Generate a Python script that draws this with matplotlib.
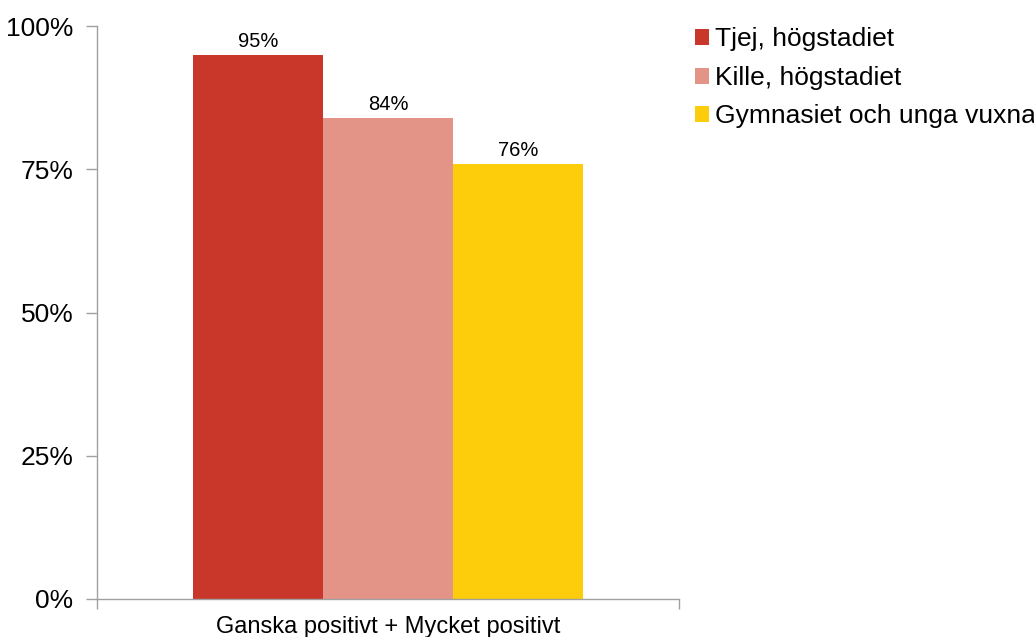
import numpy as np
import matplotlib.pyplot as plt
from matplotlib.patches import Patch
from matplotlib.ticker import FuncFormatter

plt.rcParams['font.family'] = ['Liberation Sans', 'DejaVu Sans']

category = 'Ganska positivt + Mycket positivt'
groups = ['Tjej, högstadiet', 'Kille, högstadiet', 'Gymnasiet och unga vuxna']
values = [95, 84, 76]
colors = ['#C9372A', '#E39486', '#FDCC0A']
axis_color = '#A0A0A0'

fig = plt.figure(figsize=(10.34, 6.37), dpi=100)
ax = fig.add_axes([0.0938, 0.0597, 0.5629, 0.8993])

width = 0.223
offsets = (np.arange(len(groups)) - 1) * width
bars = ax.bar(offsets, values, width=width, color=colors, linewidth=0)
for x, v in zip(offsets, values):
    ax.text(x, v + 0.7, f'{v}%', ha='center', va='bottom', fontsize=14.5)

ax.set_xlim(-0.5, 0.5)
ax.set_ylim(0, 100)
ax.set_yticks([0, 25, 50, 75, 100])
ax.yaxis.set_major_formatter(FuncFormatter(lambda v, _: f'{v:.0f}%'))
ax.tick_params(axis='y', length=8, width=1, color=axis_color, labelsize=19, pad=9)

ax.set_xticks([0])
ax.set_xticklabels([category], fontsize=17)
ax.tick_params(axis='x', which='major', length=0, pad=12)
ax.set_xticks([-0.5, 0.5], minor=True)
ax.tick_params(axis='x', which='minor', length=7, width=1, color=axis_color)

for side in ['top', 'right']:
    ax.spines[side].set_visible(False)
for side in ['left', 'bottom']:
    ax.spines[side].set_color(axis_color)
    ax.spines[side].set_linewidth(1)

handles = [Patch(facecolor=c, edgecolor='none') for c in colors]
fig.legend(handles, groups, loc='upper left', bbox_to_anchor=(0.672, 0.957),
           frameon=False, fontsize=19, handlelength=0.55, handleheight=0.55,
           handletextpad=0.2, labelspacing=0.55, borderpad=0, borderaxespad=0)

fig.savefig('out.png', dpi=100)
